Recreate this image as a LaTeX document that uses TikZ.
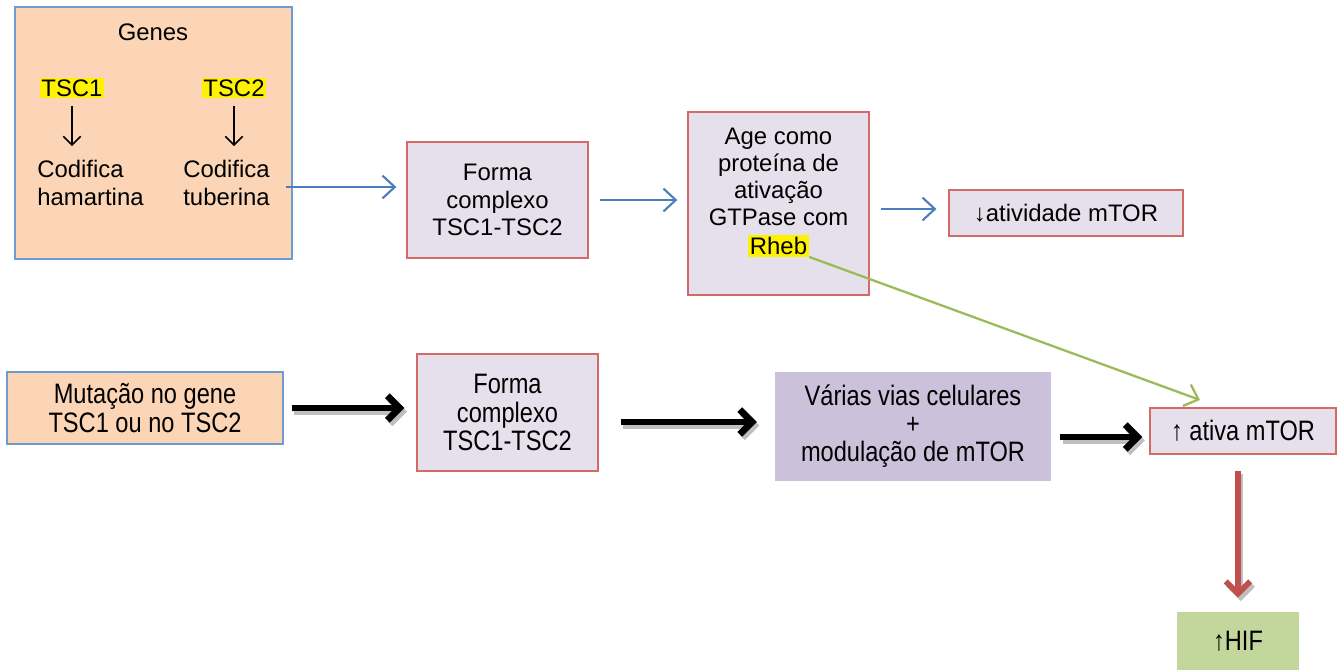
\documentclass[tikz,border=0pt]{standalone}
\usepackage{fontspec}
\setmainfont{Liberation Sans}
\newfontfamily\narrowfont[FakeStretch=0.84]{Liberation Sans}
\usepackage{xcolor}
\definecolor{peach}{HTML}{FBD5B5}
\definecolor{boxblue}{HTML}{6F9BD5}
\definecolor{lilac}{HTML}{E5E0EC}
\definecolor{boxred}{HTML}{D26A68}
\definecolor{purplefill}{HTML}{CCC1DA}
\definecolor{hifgreen}{HTML}{C3D69B}
\definecolor{lineblue}{HTML}{4A7EBB}
\definecolor{linegreen}{HTML}{9BBB59}
\definecolor{linered}{HTML}{C0504D}
\usepackage{tikz}
\usetikzlibrary{arrows.meta}
\usetikzlibrary{positioning}
\tikzstyle{genebox} = [rectangle, draw=boxblue, fill=peach, line width=0.8pt,
    text centered, inner sep=0pt]
\tikzstyle{block} = [rectangle, draw=boxred, fill=lilac, line width=0.8pt,
    align=center, inner sep=0pt]
\tikzstyle{hilite} = [fill=yellow, inner sep=1pt]
\tikzstyle{narrow} = [font=\narrowfont\fontsize{16}{16}\selectfont]
\tikzstyle{line} = [draw=lineblue, line width=1.2pt, -{Straight Barb[length=7pt,width=13pt]}]
\tikzstyle{gline} = [draw=black, line width=0.9pt, -{Straight Barb[length=5pt,width=10pt]}]
\tikzstyle{pathway} = [draw=black, line width=3.8pt, -{Straight Barb[length=7pt,width=14pt]}]
\tikzstyle{pathshadow} = [pathway, draw=gray!50, transform canvas={xshift=1.5pt,yshift=-2pt}]

\begin{document}
\begin{tikzpicture}[x=0.02cm,y=-0.02cm,font=\fontsize{13.6}{15.5}\selectfont]
    \useasboundingbox (0,0) rectangle (1343,670);
    % Place nodes
    \node [genebox,minimum width=5.54cm,minimum height=5.04cm] (genes) at (153.5,133) {};
    \node (title) at (153,32) {Genes};
    \node [hilite] (tsc1) at (72,88) {TSC1};
    \node [hilite] (tsc2) at (234,88) {TSC2};
    \node [anchor=west,align=left,inner sep=0pt] (cod1) at (37,183) {Codifica\\hamartina};
    \node [anchor=west,align=left,inner sep=0pt] (cod2) at (183,183) {Codifica\\tuberina};

    \node [block,minimum width=3.62cm,minimum height=2.32cm] (forma) at (497.5,200) {Forma\\complexo\\TSC1-TSC2};
    \node [block,minimum width=3.62cm,minimum height=3.66cm] (age) at (778.5,203.5) {};
    \node [align=center] (agetext) at (778.5,177) {Age como\\proteína de\\ativação\\GTPase com};
    \node [hilite] (rheb) at (778.5,246) {Rheb};
    \node [block,minimum width=4.68cm,minimum height=0.92cm] (down) at (1066,213) {↓atividade mTOR};

    %second row
    \node [genebox,narrow,align=center,minimum width=5.52cm,minimum height=1.44cm] (mut) at (145,408) {Mutação no gene\\TSC1 ou no TSC2};
    \node [block,narrow,minimum width=3.62cm,minimum height=2.34cm] (forma2) at (507.5,412.5) {Forma\\complexo\\TSC1-TSC2};
    \node [rectangle,narrow,fill=purplefill,align=center,minimum width=5.52cm,minimum height=2.18cm,inner sep=0pt] (vias) at (913,426.5) {Várias vias celulares\\+\\modulação de mTOR};
    \node [block,narrow,minimum width=3.72cm,minimum height=0.92cm] (up) at (1243,431) {↑ ativa mTOR};
    \node [rectangle,narrow,fill=hifgreen,minimum width=2.44cm,minimum height=1.16cm,inner sep=0pt] (hif) at (1238,641) {↑HIF};
    \coordinate (gtip) at (1200,400);

    % Draw edges
    \path [gline] ([yshift=-4pt]tsc1.south) -- ([yshift=8pt]tsc1.south |- cod1.north);
    \path [gline] ([yshift=-4pt]tsc2.south) -- ([yshift=8pt]tsc2.south |- cod2.north);
    \path [line,shorten <=-4pt,shorten >=5.7pt] (genes.east |- 0,187) -- (forma.west |- 0,187);
    \path [line,shorten <=6.3pt,shorten >=5.7pt] (forma.east) -- (age.west |- forma.east);
    \path [line,shorten <=6.3pt,shorten >=6.8pt] (age.east |- 0,209) -- (down.west |- 0,209);
    \path [draw=linegreen,line width=1.3pt,-{Straight Barb[length=7pt,width=13pt]}] (rheb.south east) -- (gtip);

    % shadows first, then the thick arrows
    \path [pathshadow,shorten <=4.5pt,shorten >=6.8pt] (mut) -- (forma2.west |- mut);
    \path [pathshadow,shorten <=12.5pt,shorten >=10.2pt] (forma2.east |- 0,422) -- (vias.west |- 0,422);
    \path [pathshadow,shorten <=5pt,shorten >=4pt] (vias.east |- 0,437) -- (up.west |- 0,437);
    \path [pathshadow,line width=3.2pt,shorten <=9pt,shorten >=8pt] (hif.north |- up.south) -- (hif.north);
    \path [pathway,shorten <=4.5pt,shorten >=6.8pt] (mut) -- (forma2.west |- mut);
    \path [pathway,shorten <=12.5pt,shorten >=10.2pt] (forma2.east |- 0,422) -- (vias.west |- 0,422);
    \path [pathway,shorten <=5pt,shorten >=4pt] (vias.east |- 0,437) -- (up.west |- 0,437);
    \path [pathway,draw=linered,line width=3.2pt,shorten <=9pt,shorten >=8pt] (hif.north |- up.south) -- (hif.north);
\end{tikzpicture}
\end{document}
